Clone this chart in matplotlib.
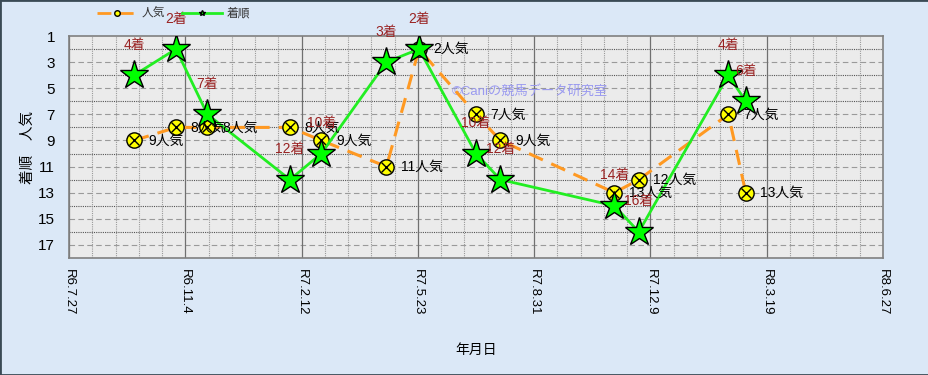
import numpy as np
import matplotlib
matplotlib.use("Agg")
import matplotlib.pyplot as plt
import matplotlib.dates as mdates
from matplotlib.patches import Rectangle
from datetime import date

plt.rcParams['font.family'] = ['Liberation Sans', 'Noto Sans CJK JP', 'DejaVu Sans']

# ---- data ----
race_dates = ["2024-09-21", "2024-10-27", "2024-11-23", "2025-02-02", "2025-03-01",
              "2025-04-26", "2025-05-24", "2025-07-12", "2025-08-02", "2025-11-08",
              "2025-11-29", "2026-02-14", "2026-03-01"]
finish = [4, 2, 7, 12, 10, 3, 2, 10, 12, 14, 16, 4, 6]          # 着順
popularity = [9, 8, 8, 8, 9, 11, 2, 7, 9, 13, 12, 7, 13]          # 人気

tick_dates = ["2024-07-27", "2024-11-04", "2025-02-12", "2025-05-23",
              "2025-08-31", "2025-12-09", "2026-03-19", "2026-06-27"]
tick_labels = ["R6.7.27", "R6.11.4", "R7.2.12", "R7.5.23",
               "R7.8.31", "R7.12.9", "R8.3.19", "R8.6.27"]
y_ticks = [1, 3, 5, 7, 9, 11, 13, 15, 17]


def to_num(s):
    return mdates.date2num(date.fromisoformat(s))


def make_plot():
    x = [to_num(d) for d in race_dates]
    xt = [to_num(d) for d in tick_dates]

    fig = plt.figure(figsize=(9.29, 3.75), dpi=100)
    fig.patch.set_facecolor('#dbe8f7')
    fig.patches.append(Rectangle((0, 0), 1, 1, transform=fig.transFigure,
                                 fill=False, edgecolor='#3a4a55', linewidth=2))

    ax = fig.add_axes([69 / 929, 1 - 258 / 375, 814 / 929, 222 / 375])
    ax.set_facecolor('#ebebeb')

    # grid
    for v in range(2, 18):
        if v % 2 == 0:
            ax.axhline(v, color='#555555', lw=0.8, ls=(0, (1, 1)), zorder=1)
        else:
            ax.axhline(v, color='#9a9a9a', lw=0.8, ls=(0, (5, 3)), zorder=1)
    for v in np.arange(xt[0], xt[-1], 20):
        if (v - xt[0]) % 100 == 0:
            ax.axvline(v, color='#707070', lw=0.9, zorder=1)
        else:
            ax.axvline(v, color='#9a9a9a', lw=0.8, ls=(0, (1, 1)), zorder=1)

    # 人気
    ax.plot(x, popularity, color='#ff9922', lw=2.2, ls=(0, (5, 3)),
            marker='o', markersize=11, markerfacecolor='#ffff00',
            markeredgecolor='black', markeredgewidth=1, zorder=3, label='人気')
    ax.plot(x, popularity, ls='none', marker='x', markersize=7.5,
            markeredgecolor='black', markeredgewidth=1, zorder=4)

    # 着順
    ax.plot(x, finish, color='#22ee22', lw=2, marker='*', markersize=21,
            markerfacecolor='#00ff00', markeredgecolor='black',
            markeredgewidth=1, zorder=5, label='着順')

    for xi, p in zip(x, popularity):
        ax.annotate(f"{p}人気", (xi, p), xytext=(10.5, 0), textcoords='offset points',
                    va='center', ha='left', fontsize=10, color='black', zorder=6)
    for xi, f in zip(x, finish):
        ax.annotate(f"{f}着", (xi, f), xytext=(0, 22), textcoords='offset points',
                    va='center', ha='center', fontsize=10, color='#992222', zorder=6)

    ax.text(0.47, 0.75, "©Caniの競馬データ研究室", transform=ax.transAxes,
            fontsize=9.5, color='#9a9af0', ha='left', va='center', zorder=2)

    ax.set_ylim(18, 1)
    ax.set_yticks(y_ticks)
    ax.set_xlim(xt[0], xt[-1])
    ax.set_xticks(xt)
    ax.set_xticklabels(tick_labels, rotation=-90, fontsize=9.5)
    ax.tick_params(axis='x', length=0, pad=8)
    ax.tick_params(axis='y', length=0, pad=10, labelsize=11)
    for s in ax.spines.values():
        s.set_color('#808080')
        s.set_linewidth(1.2)

    ax.set_ylabel("着順　人気", fontsize=10.5, labelpad=2)
    ax.set_xlabel("年月日", fontsize=10, labelpad=20)

    leg = fig.legend(loc='center left', bbox_to_anchor=(86 / 929, 1 - 14 / 375),
                     ncol=2, frameon=False, fontsize=8.5, handlelength=3.4,
                     handletextpad=0.4, columnspacing=1.4)
    for line in leg.get_lines():
        line.set_markersize(4)
        line.set_linewidth(2)
    for t in leg.get_texts():
        t.set_color('#333333')

    fig.savefig("out.png", dpi=100, facecolor=fig.get_facecolor())


def main():
    make_plot()


main()
